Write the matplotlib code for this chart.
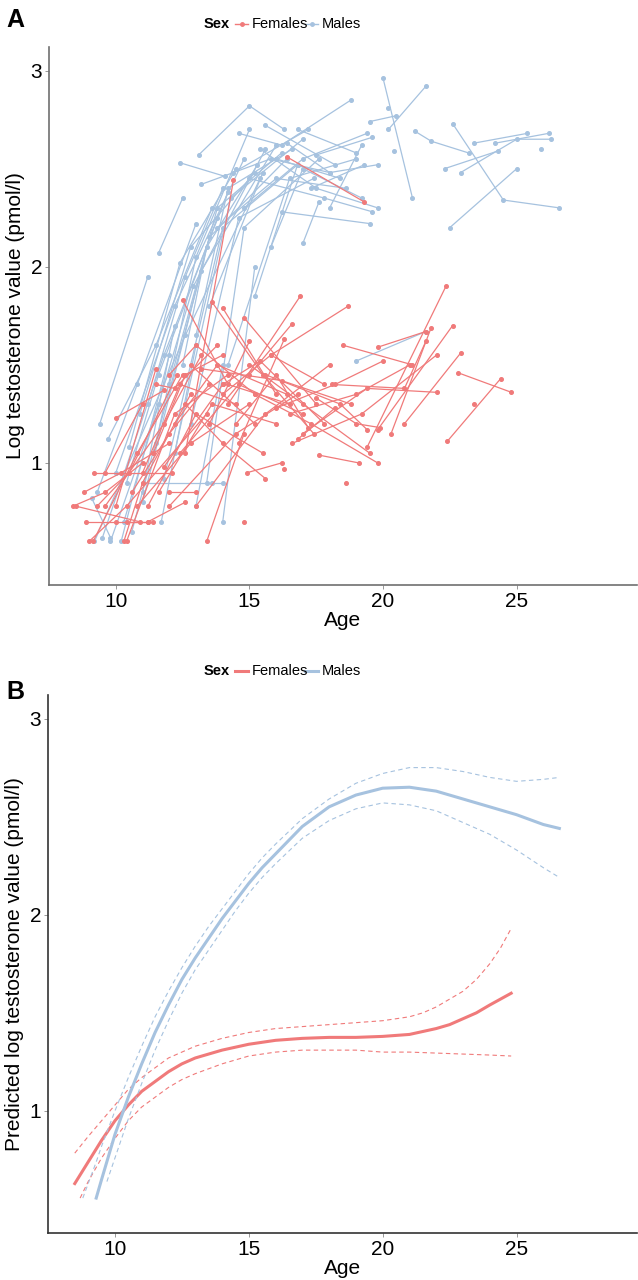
import matplotlib
matplotlib.use("Agg")
import matplotlib.pyplot as plt
from matplotlib.lines import Line2D

plt.rcParams['font.family'] = ['Liberation Sans', 'DejaVu Sans']

FEMALE_COL = "#F07A7A"
MALE_COL = "#A6C2DF"

# ---- panel A: individual trajectories (age, log testosterone) ----
male_ages = [
    [9.2, 12.6, 15.4], [9.5, 11.8, 14.2], [9.3, 10.8, 13.0], [9.4, 11.2],
    [9.7, 11.5, 13.6], [10.0, 12.2, 14.8], [10.3, 12.9, 15.6], [10.5, 12.4, 14.5],
    [10.6, 13.2, 16.0], [10.9, 12.8, 15.2], [11.0, 13.5, 16.4], [11.2, 12.6, 14.0],
    [11.5, 13.0, 15.0], [11.6, 12.5], [11.8, 14.0, 16.8], [12.0, 13.8, 16.2],
    [12.2, 14.3, 17.0], [12.4, 14.1], [12.5, 13.4, 15.3], [12.8, 14.6, 17.4],
    [13.1, 15.0, 16.3], [13.0, 14.2, 16.6], [13.2, 15.8, 18.0], [13.4, 14.8, 17.6],
    [13.5, 15.5], [13.8, 16.0, 18.6], [14.0, 15.2], [14.2, 16.5, 19.0],
    [14.4, 17.2], [14.6, 16.2, 18.8], [14.8, 17.0, 19.4], [15.0, 17.8, 19.6],
    [15.2, 16.8], [15.4, 17.5, 19.8], [15.6, 18.2], [15.8, 17.0, 19.2],
    [16.0, 18.4], [16.2, 19.5], [16.4, 18.0, 19.8], [16.8, 19.0],
    [17.0, 17.6], [17.3, 19.3], [17.5, 19.6], [18.0, 19.2],
    [19.0, 21.6], [9.8, 11.6], [10.2, 12.0], [10.4, 11.6, 13.8],
    [11.0, 12.2], [11.7, 13.0], [13.0, 14.0], [11.0, 13.6, 14.0],
    [9.1, 9.8], [20.0, 21.1], [21.6, 20.2], [19.5, 20.5], [20.2], [20.4],
    [21.2, 21.8, 23.2], [22.6, 24.5, 26.6], [23.4, 25.4], [24.2, 26.2],
    [22.3, 24.3], [22.9, 25.0, 26.3], [25.9], [22.5, 25.0],
]
male_vals = [
    [0.60, 1.65, 2.45], [0.62, 1.55, 2.38], [0.85, 1.40, 2.22], [1.20, 1.95],
    [1.12, 1.60, 2.30], [0.95, 1.80, 2.55], [0.70, 1.90, 2.60], [1.08, 2.02, 2.50],
    [0.65, 1.98, 2.62], [1.25, 2.10, 2.48], [0.80, 2.15, 2.55], [1.30, 1.95, 2.40],
    [1.10, 2.05, 2.70], [2.07, 2.35], [0.92, 2.20, 2.52], [1.40, 2.30, 2.58],
    [1.05, 2.35, 2.65], [2.53, 2.46], [1.50, 2.10, 2.52], [1.20, 2.25, 2.45],
    [2.57, 2.82, 2.70], [1.65, 2.40, 2.60], [2.42, 2.55, 2.48], [0.90, 2.20, 2.55],
    [1.80, 2.48], [2.20, 2.45, 2.40], [0.70, 2.00], [1.50, 2.45, 2.55],
    [2.48, 2.70], [2.68, 2.62, 2.85], [2.30, 2.55, 2.68], [2.45, 2.35, 2.28],
    [1.85, 2.52], [2.60, 2.40, 2.30], [2.72, 2.52], [2.10, 2.50, 2.35],
    [2.55, 2.45], [2.28, 2.22], [2.63, 2.48, 2.52], [2.70, 2.58],
    [2.12, 2.33], [2.40, 2.52], [2.57, 2.66], [2.30, 2.62],
    [1.52, 1.67], [0.60, 1.30], [0.60, 1.55], [0.90, 1.45, 2.25],
    [0.85, 1.70], [0.70, 1.60], [0.78, 1.50], [0.90, 0.90, 0.90],
    [0.82, 0.62], [2.96, 2.35], [2.92, 2.70], [2.74, 2.77], [2.81], [2.59],
    [2.69, 2.64, 2.58], [2.73, 2.34, 2.30], [2.63, 2.68], [2.63, 2.68],
    [2.50, 2.59], [2.48, 2.65, 2.65], [2.60], [2.20, 2.50],
]

female_ages = [
    [8.4, 9.6, 11.0], [8.8, 10.2, 12.0], [9.0, 10.4, 13.4], [9.15, 10.8, 12.5],
    [8.9, 10.0, 11.2], [9.2, 12.1], [9.3, 10.5, 12.3], [10.3, 11.0, 12.8],
    [10.4, 12.2, 14.2], [9.6, 11.8, 13.2], [10.0, 11.8], [10.6, 12.0, 13.5],
    [10.8, 12.8, 15.0], [11.0, 12.4, 14.5], [11.2, 13.0, 15.5], [11.4, 12.6, 14.0],
    [11.6, 13.6, 16.0], [11.8, 14.0], [12.0, 13.0, 15.2], [12.2, 13.8, 16.4],
    [12.4, 14.6, 17.0], [12.5, 14.2, 16.5], [12.6, 14.4], [16.4, 19.3],
    [13.6, 15.5, 17.4], [14.0, 16.0], [14.8, 17.5], [14.2, 16.9],
    [15.0, 16.6], [14.6, 16.3], [15.8, 18.7], [13.4, 14.8],
    [13.0, 15.6, 18.0], [14.9, 16.2], [16.3], [14.8],
    [14.0, 15.8, 17.8], [15.0, 17.0, 19.5], [15.2, 17.3, 19.8], [17.6, 19.1],
    [15.6, 18.4, 19.4], [16.0, 18.2, 20.0], [16.5, 19.0, 21.0], [17.0, 19.4, 22.0],
    [16.6, 19.2, 22.0], [18.1, 20.8, 21.6], [19.4, 22.35], [20.3, 21.8],
    [19.8, 22.6], [20.8, 22.9], [19.8, 21.6], [18.5, 21.1],
    [22.8, 24.8], [22.4, 24.4], [23.4], [18.6],
    [12.0, 14.5, 16.8], [12.8, 15.2], [13.2, 16.2, 18.8], [11.5, 12.2, 13.8],
    [13.5, 15.0], [14.0, 15.4, 17.8], [10.0, 11.5], [9.6, 11.0],
    [11.2, 12.6], [12.0, 13.0], [16.8, 18.2], [17.5, 19.0, 19.9],
    [14.5, 16.0, 17.2], [12.6, 14.0, 15.6], [8.5, 10.9], [10.4, 11.4],
]
female_vals = [
    [0.78, 0.85, 1.00], [0.85, 0.95, 1.10], [0.60, 0.78, 1.25], [0.60, 1.05, 1.45],
    [0.70, 0.70, 0.70], [0.95, 0.95], [0.78, 0.95, 1.45], [0.60, 0.90, 1.35],
    [0.60, 1.25, 1.45], [0.78, 1.20, 1.55], [1.23, 1.37], [0.85, 1.15, 1.40],
    [0.78, 1.10, 1.30], [0.95, 1.40, 1.30], [0.78, 1.25, 1.05], [1.05, 1.45, 1.55],
    [0.85, 1.30, 1.20], [0.98, 1.40], [1.45, 1.60, 1.35], [1.20, 1.50, 1.35],
    [1.05, 1.40, 1.25], [1.83, 1.40, 1.30], [1.05, 2.44], [2.56, 2.33],
    [1.82, 1.45, 1.15], [1.79, 1.35], [1.74, 1.30], [1.30, 1.85],
    [1.45, 1.71], [1.10, 1.63], [1.55, 1.80], [0.60, 1.15],
    [0.78, 1.25, 1.50], [0.95, 1.00], [0.97], [0.70],
    [1.35, 1.55, 1.40], [1.50, 1.30, 1.05], [1.35, 1.20, 1.00], [1.04, 1.00],
    [1.45, 1.30, 1.17], [1.28, 1.40, 1.52], [1.25, 1.35, 1.50], [1.15, 1.38, 1.36],
    [1.10, 1.25, 1.55], [1.40, 1.38, 1.62], [1.08, 1.90], [1.15, 1.69],
    [1.17, 1.70], [1.20, 1.56], [1.59, 1.67], [1.60, 1.50],
    [1.46, 1.36], [1.11, 1.43], [1.30], [0.90],
    [0.78, 1.15, 1.35], [1.50, 1.20], [1.48, 1.42, 1.30], [1.40, 1.38, 1.60],
    [1.20, 1.62], [1.40, 1.52, 1.20], [0.78, 1.48], [0.95, 1.30],
    [0.70, 0.80], [0.85, 0.85], [1.12, 1.28], [1.33, 1.20, 1.18],
    [1.20, 1.45, 1.18], [1.30, 1.10, 0.92], [0.78, 0.70], [0.70, 0.70],
]

# ---- panel B: predicted curves with confidence bands ----
male_fit_age = [9.3, 9.5, 10, 10.5, 11, 11.5, 12, 12.5, 13, 13.5, 14, 14.5, 15, 15.5,
                16, 17, 18, 19, 20, 21, 22, 23, 24, 25, 26, 26.6]
male_fit = [0.556, 0.65, 0.88, 1.07, 1.24, 1.40, 1.54, 1.67, 1.78, 1.88, 1.98, 2.07,
            2.16, 2.24, 2.31, 2.45, 2.55, 2.61, 2.645, 2.65, 2.63, 2.59, 2.55, 2.51,
            2.46, 2.44]
male_upper_age = [8.8, 9.3, 9.5, 10, 10.5, 11, 11.5, 12, 12.5, 13, 13.5, 14, 14.5, 15,
                  15.5, 16, 17, 18, 19, 20, 21, 22, 23, 24, 25, 26, 26.6]
male_upper = [0.556, 0.74, 0.82, 1.00, 1.17, 1.33, 1.48, 1.61, 1.73, 1.84, 1.94, 2.03,
              2.12, 2.21, 2.29, 2.36, 2.49, 2.59, 2.67, 2.72, 2.75, 2.75, 2.73, 2.70,
              2.68, 2.69, 2.70]
male_lower_age = [9.7, 10, 10.5, 11, 11.5, 12, 12.5, 13, 13.5, 14, 14.5, 15, 15.5, 16,
                  17, 18, 19, 20, 21, 22, 23, 24, 25, 26, 26.6]
male_lower = [0.64, 0.76, 0.96, 1.14, 1.31, 1.46, 1.60, 1.72, 1.82, 1.92, 2.02, 2.11,
              2.19, 2.26, 2.39, 2.48, 2.54, 2.57, 2.56, 2.53, 2.47, 2.41, 2.33, 2.24, 2.19]

female_fit_age = [8.5, 9, 9.5, 10, 10.5, 11, 11.5, 12, 12.5, 13, 14, 15, 16, 17, 18, 19,
                  20, 21, 22, 22.5, 23, 23.5, 24, 24.8]
female_fit = [0.63, 0.74, 0.85, 0.95, 1.03, 1.10, 1.15, 1.20, 1.24, 1.27, 1.31, 1.34,
              1.36, 1.37, 1.375, 1.375, 1.38, 1.39, 1.42, 1.44, 1.47, 1.50, 1.54, 1.60]
female_upper_age = [8.5, 9, 9.5, 10, 10.5, 11, 11.5, 12, 12.5, 13, 14, 15, 16, 17, 18, 19,
                    20, 21, 21.5, 22, 22.5, 23, 23.5, 24, 24.4, 24.8]
female_upper = [0.785, 0.87, 0.95, 1.03, 1.11, 1.17, 1.22, 1.27, 1.30, 1.33, 1.37, 1.40,
                1.42, 1.43, 1.44, 1.45, 1.46, 1.48, 1.50, 1.53, 1.57, 1.61, 1.67, 1.75,
                1.83, 1.93]
female_lower_age = [8.7, 9, 9.5, 10, 10.5, 11, 11.5, 12, 12.5, 13, 14, 15, 16, 17, 18, 19,
                    20, 21, 22, 23, 24, 24.8]
female_lower = [0.556, 0.64, 0.76, 0.86, 0.95, 1.02, 1.07, 1.12, 1.16, 1.19, 1.24, 1.28,
                1.30, 1.31, 1.31, 1.31, 1.30, 1.30, 1.295, 1.29, 1.285, 1.28]

yticks = [1, 2, 3]
xticks = [10, 15, 20, 25]


def style_axes(ax, spine_col):
    ax.set_xlim(7.5, 29.5)
    ax.set_ylim(0.378, 3.12)
    ax.set_xticks(xticks)
    ax.set_yticks(yticks)
    ax.tick_params(labelsize=15, length=3, width=0.6, color="#888888", pad=2)
    for s in ["top", "right"]:
        ax.spines[s].set_visible(False)
    for s in ["left", "bottom"]:
        ax.spines[s].set_color(spine_col)
        ax.spines[s].set_linewidth(1.2)
    ax.set_xlabel("Age", fontsize=15, labelpad=0)


def add_legend(fig, ytop, with_marker):
    y = 1 - ytop / 1280
    fig.text(204 / 638, y, "Sex", fontsize=10.5, fontweight="bold", va="center")
    for x0, x1, tx, lab, col in [(235, 248, 252, "Females", FEMALE_COL),
                                  (305, 318, 322, "Males", MALE_COL)]:
        lw = 1.0 if with_marker else 2.2
        fig.add_artist(Line2D([x0 / 638, x1 / 638], [y, y], color=col, lw=lw))
        if with_marker:
            fig.add_artist(Line2D([(x0 + x1) / 2 / 638], [y], color=col, marker="o",
                                  markersize=2.5, lw=0))
        fig.text(tx / 638, y, lab, fontsize=10.5, va="center")


fig = plt.figure(figsize=(6.38, 12.8), dpi=100)

# Panel A
axA = fig.add_axes([49 / 638, 1 - 585 / 1280, 588 / 638, 538 / 1280])
for a, v in zip(male_ages, male_vals):
    axA.plot(a, v, color=MALE_COL, lw=0.9, marker="o", markersize=2.6)
for a, v in zip(female_ages, female_vals):
    axA.plot(a, v, color=FEMALE_COL, lw=0.9, marker="o", markersize=2.6)
style_axes(axA, "#707070")
axA.set_ylabel("Log testosterone value (pmol/l)", fontsize=15, labelpad=4)

# Panel B
axB = fig.add_axes([48 / 638, 1 - 1233 / 1280, 589 / 638, 538 / 1280])
axB.plot(female_fit_age, female_fit, color=FEMALE_COL, lw=2.2)
axB.plot(female_upper_age, female_upper, color=FEMALE_COL, lw=0.8, ls=(0, (4, 3)))
axB.plot(female_lower_age, female_lower, color=FEMALE_COL, lw=0.8, ls=(0, (4, 3)))
axB.plot(male_fit_age, male_fit, color=MALE_COL, lw=2.2)
axB.plot(male_upper_age, male_upper, color=MALE_COL, lw=0.8, ls=(0, (4, 3)))
axB.plot(male_lower_age, male_lower, color=MALE_COL, lw=0.8, ls=(0, (4, 3)))
style_axes(axB, "#333333")
axB.set_ylabel("Predicted log testosterone value (pmol/l)", fontsize=15, labelpad=4)

add_legend(fig, 24, True)
add_legend(fig, 671, False)

fig.text(6 / 638, 1 - 20 / 1280, "A", fontsize=18, fontweight="bold", va="center")
fig.text(6 / 638, 1 - 692 / 1280, "B", fontsize=18, fontweight="bold", va="center")

fig.savefig("out.png", dpi=100)
